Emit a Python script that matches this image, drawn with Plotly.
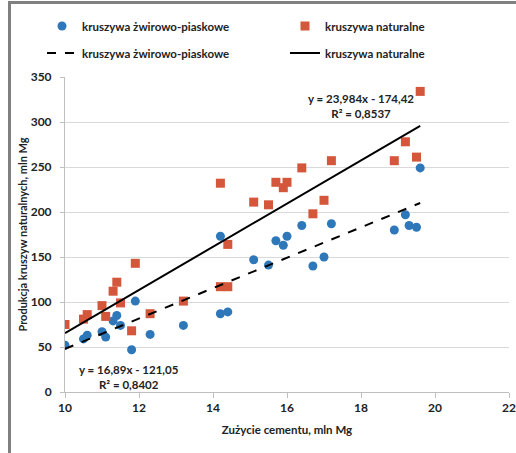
import plotly.graph_objects as go

# Data
x_zp = [10.0, 10.5, 10.6, 11.0, 11.1, 11.3, 11.4, 11.5, 11.8, 11.9, 12.3, 13.2, 14.2, 14.4, 14.2,
        15.1, 15.5, 15.7, 15.9, 16.0, 16.4, 16.7, 17.0, 17.2, 18.9, 19.2, 19.3, 19.5, 19.6]
y_zp = [52, 59, 63, 67, 61, 79, 85, 74, 47, 101, 64, 74, 87, 89, 173,
        147, 141, 168, 163, 173, 185, 140, 150, 187, 180, 197, 185, 183, 249]

x_nat = [10.0, 10.5, 10.6, 11.0, 11.1, 11.3, 11.4, 11.5, 11.8, 11.9, 12.3, 13.2, 14.2, 14.4, 14.2,
         14.4, 15.1, 15.5, 15.7, 15.9, 16.0, 16.4, 16.7, 17.0, 17.2, 18.9, 19.2, 19.5, 19.6]
y_nat = [75, 81, 86, 96, 84, 112, 122, 99, 68, 143, 87, 101, 117, 117, 232,
         164, 211, 208, 233, 227, 233, 249, 198, 213, 257, 257, 278, 261, 334]

# Trendline coefficients (as printed on the chart)
trend_zp = [16.89, -121.05]
trend_nat = [23.984, -174.42]

label_zp = "kruszywa żwirowo-piaskowe"
label_nat = "kruszywa naturalne"

BLUE = "#2E78BA"
RED = "#D4573B"
FONT = "Lato"
TXT = "#222222"

def trend_line(xs, coef):
    xr = [min(xs), max(xs)]
    return xr, [coef[0] * v + coef[1] for v in xr]

fig = go.Figure()
fig.add_trace(go.Scatter(x=x_zp, y=y_zp, mode="markers", name=label_zp, showlegend=True,
                         marker=dict(color=BLUE, size=9, symbol="circle"), legend="legend"))
fig.add_trace(go.Scatter(x=x_nat, y=y_nat, mode="markers", name=label_nat, showlegend=True,
                         marker=dict(color=RED, size=9, symbol="square"), legend="legend2"))
tx, ty = trend_line(x_zp, trend_zp)
fig.add_trace(go.Scatter(x=tx, y=ty, mode="lines", name=label_zp, showlegend=True,
                         line=dict(color="black", width=2, dash="dash"), legend="legend3"))
tx, ty = trend_line(x_nat, trend_nat)
fig.add_trace(go.Scatter(x=tx, y=ty, mode="lines", name=label_nat, showlegend=True,
                         line=dict(color="black", width=2), legend="legend4"))
# empty trace that only makes the outer chart frame (x2/y2 axes) exist
fig.add_trace(go.Scatter(x=[], y=[], xaxis="x2", yaxis="y2", showlegend=False,
                         hoverinfo="skip", mode="markers"))

W, H = 516, 453
ML, MT = 11, 4                     # outer frame position
PL, PR, PT, PB = 65, 509, 77, 392  # plot area in pixels
aw, ah = W - ML, H - MT

def px_to_paper_x(px):
    return (px - ML) / aw

def px_to_paper_y(py):
    return (H - py) / ah

bold = dict(family=FONT, size=12, color=TXT, weight="bold")

def leg(px_x, px_y):
    return dict(orientation="h", xanchor="left", yanchor="middle",
                x=px_to_paper_x(px_x), y=px_to_paper_y(px_y),
                font=dict(family=FONT, size=11.5, color=TXT, weight="bold"),
                bgcolor="rgba(0,0,0,0)", borderwidth=0)

frame_axis = dict(domain=[0, 1], showline=True, linecolor="#808080", linewidth=2.5,
                  showgrid=False, zeroline=False, showticklabels=False, ticks="",
                  fixedrange=True, range=[0, 1], automargin=False)

fig.update_layout(
    width=W, height=H,
    showlegend=True,
    margin=dict(l=ML, r=0, t=MT, b=0, pad=0, autoexpand=False),
    paper_bgcolor="white", plot_bgcolor="rgba(0,0,0,0)",
    font=dict(family=FONT, size=12, color=TXT),
    legend=leg(42, 26),
    legend2=leg(285, 26),
    legend3=leg(42, 53),
    legend4=leg(285, 53),
    xaxis=dict(domain=[px_to_paper_x(PL), px_to_paper_x(PR)], anchor="y", automargin=False,
               range=[10, 22], dtick=2, showgrid=False, zeroline=False,
               showline=True, linecolor="#BFBFBF", linewidth=1,
               ticks="outside", ticklen=5, tickcolor="#BFBFBF",
               tickfont=bold,
               title=dict(text="Zużycie cementu, mln Mg", standoff=11,
                          font=dict(family=FONT, size=11.5, color=TXT, weight="bold"))),
    yaxis=dict(domain=[px_to_paper_y(PB), px_to_paper_y(PT)], anchor="x", automargin=False,
               range=[0, 350], dtick=50, showgrid=True, gridcolor="#D9D9D9", gridwidth=1,
               zeroline=False, showline=True, linecolor="#BFBFBF", linewidth=1,
               ticks="outside", ticklen=4, tickcolor="#BFBFBF", ticklabelstandoff=6,
               tickfont=bold,
               title=dict(text="Produkcja kruszyw naturalnych, mln Mg", standoff=0,
                          font=dict(family=FONT, size=11, color=TXT, weight="bold"))),
    xaxis2=dict(**frame_axis, anchor="y2", side="top"),
    yaxis2=dict(**frame_axis, anchor="x2", side="left"),
    annotations=[
        dict(x=18.0, y=317.8, xref="x", yref="y", showarrow=False,
             text="<b>y = 23,984x - 174,42<br>R² = 0,8537</b>",
             font=dict(family=FONT, size=11.5, color=TXT), align="center"),
        dict(x=11.73, y=16.7, xref="x", yref="y", showarrow=False,
             text="<b>y = 16,89x - 121,05<br>R² = 0,8402</b>",
             font=dict(family=FONT, size=11.5, color=TXT), align="center"),
    ],
)

fig.write_html("out.html")
